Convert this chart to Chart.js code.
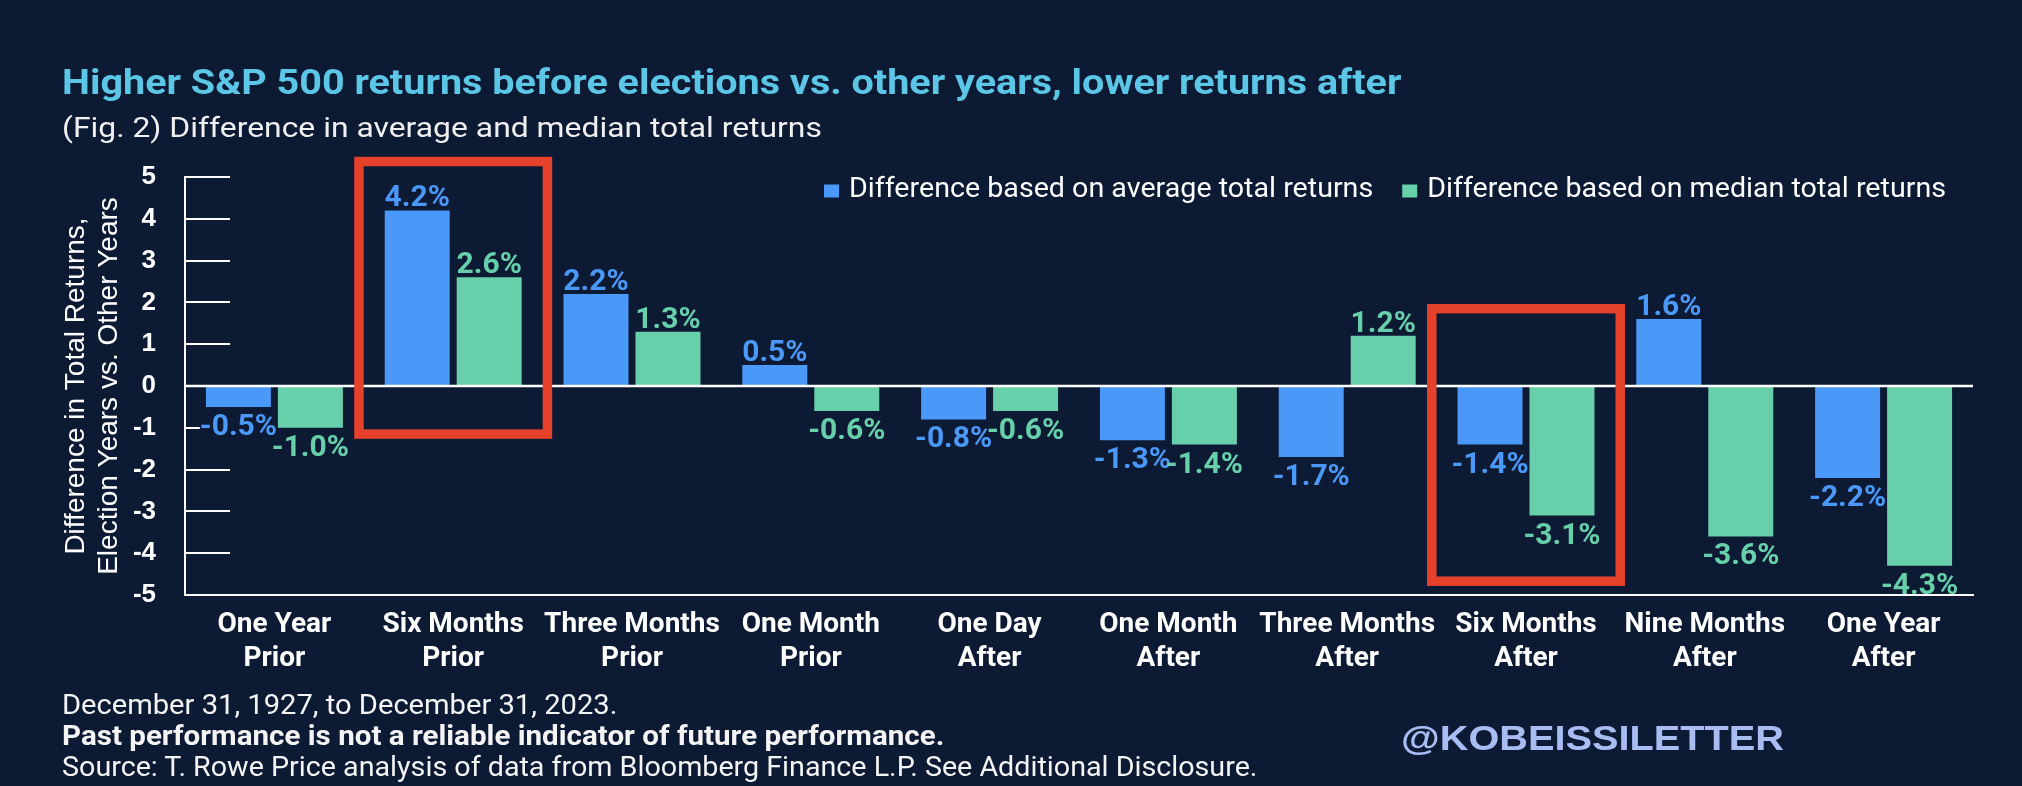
<!DOCTYPE html>
<html>
<head>
<meta charset="utf-8">
<title>S&amp;P 500 returns around elections</title>
<script src="https://cdn.jsdelivr.net/npm/chart.js@4.4.1/dist/chart.umd.min.js"></script>
<style>
  html, body { margin: 0; padding: 0; background: #0d1a34; }
  #page { position: relative; width: 2022px; height: 786px; overflow: hidden; background: #0d1a34; color: #fff; font-family: Roboto, "Noto Sans", sans-serif; }
  #chartBox { position: absolute; left: 0; top: 0; width: 2022px; height: 786px; }
  .txt { position: absolute; white-space: nowrap; margin: 0; transform-origin: 0 0; }
  #title { left: 62px; top: 65px; font-size: 35px; line-height: 35px; font-weight: 700; color: #5cc6e6; transform: scaleX(1.13); }
  #subtitle { left: 62px; top: 115px; font-size: 27px; line-height: 27px; color: #f0f0f0; transform: scaleX(1.18); }
  .foot { left: 62px; font-size: 28px; line-height: 28px; color: #f4f4f4; transform: scaleX(1.04); }
  #foot1 { top: 691px; }
  #foot2 { top: 722px; font-weight: 700; transform: scaleX(1.056); }
  #foot3 { top: 753px; transform: scaleX(1.024); }
  #handle { left: 1401px; top: 720px; font-family: "Liberation Sans", Arial, sans-serif; font-weight: 700; font-size: 35px; line-height: 35px; color: #a9bdf3; transform: scaleX(1.135); }
</style>
</head>
<body>
<div id="page">
  <div id="chartBox"><canvas id="returnsChart"></canvas></div>
  <div class="txt" id="title">Higher S&amp;P 500 returns before elections vs. other years, lower returns after</div>
  <div class="txt" id="subtitle">(Fig. 2) Difference in average and median total returns</div>
  <div class="txt foot" id="foot1">December 31, 1927, to December 31, 2023.</div>
  <div class="txt foot" id="foot2">Past performance is not a reliable indicator of future performance.</div>
  <div class="txt foot" id="foot3">Source: T. Rowe Price analysis of data from Bloomberg Finance L.P. See Additional Disclosure.</div>
  <div class="txt" id="handle">@KOBEISSILETTER</div>
</div>
<script>
// --- data ---
const categories = [
  ["One Year", "Prior"], ["Six Months", "Prior"], ["Three Months", "Prior"], ["One Month", "Prior"],
  ["One Day", "After"], ["One Month", "After"], ["Three Months", "After"], ["Six Months", "After"],
  ["Nine Months", "After"], ["One Year", "After"]
];
const averageDiff = [-0.5, 4.2, 2.2, 0.5, -0.8, -1.3, -1.7, -1.4, 1.6, -2.2];
const medianDiff = [-1.0, 2.6, 1.3, -0.6, -0.6, -1.4, 1.2, -3.1, -3.6, -4.3];
const yMin = -5;
const yMax = 5;
// red highlight boxes: category index and value range they enclose
const highlightIndex = [1, 7];
const highlightTop = [5.37, 1.85];
const highlightBottom = [-1.15, -4.67];

const palette = {
  bg: "#0d1a34",
  blue: "#4a98f7",
  green: "#67d0aa",
  red: "#e5412b",
  axis: "#ffffff",
  text: "#ffffff"
};

const decorations = {
  id: "decorations",
  beforeDatasetsDraw(chart) {
    // short inward tick marks on the value axis
    const ctx = chart.ctx;
    const y = chart.scales.y;
    const left = chart.chartArea.left;
    ctx.save();
    ctx.strokeStyle = palette.axis;
    ctx.lineWidth = 2;
    y.ticks.forEach(function (t) {
      const py = Math.round(y.getPixelForValue(t.value));
      ctx.beginPath();
      ctx.moveTo(left, py);
      ctx.lineTo(left + 45, py);
      ctx.stroke();
    });
    ctx.restore();
  },
  afterDatasetsDraw(chart) {
    const ctx = chart.ctx;
    const x = chart.scales.x;
    const y = chart.scales.y;
    const area = chart.chartArea;

    // zero line
    ctx.save();
    const y0 = y.getPixelForValue(0);
    ctx.strokeStyle = palette.axis;
    ctx.lineWidth = 2.5;
    ctx.beginPath();
    ctx.moveTo(area.left, y0);
    ctx.lineTo(area.right, y0);
    ctx.stroke();

    // value labels: backgrounds first, then text
    ctx.font = "700 30px Roboto";
    ctx.textAlign = "center";
    ctx.textBaseline = "alphabetic";
    const cap = 21;
    const items = [];
    chart.data.datasets.forEach(function (ds, di) {
      chart.getDatasetMeta(di).data.forEach(function (bar, i) {
        const v = ds.data[i];
        const txt = v.toFixed(1) + "%";
        const base = v >= 0 ? bar.y - 4 : bar.y + 7 + cap;
        items.push({ txt: txt, x: bar.x, base: base, color: ds.backgroundColor, w: ctx.measureText(txt).width });
      });
    });
    ctx.fillStyle = palette.bg;
    items.forEach(function (it) { ctx.fillRect(it.x - it.w / 2, it.base - cap - 2, it.w, cap + 2); });
    items.forEach(function (it) { ctx.fillStyle = it.color; ctx.fillText(it.txt, it.x, it.base); });

    // highlight boxes
    ctx.strokeStyle = palette.red;
    ctx.lineWidth = 9.5;
    highlightIndex.forEach(function (idx, k) {
      const x1 = x.getPixelForValue(idx - 0.527);
      const x2 = x.getPixelForValue(idx + 0.527);
      const y1 = y.getPixelForValue(highlightTop[k]);
      const y2 = y.getPixelForValue(highlightBottom[k]);
      ctx.strokeRect(x1, y1, x2 - x1, y2 - y1);
    });

    // legend, top right inside the plot
    const ds = chart.data.datasets;
    ctx.font = "400 27px Roboto";
    ctx.textAlign = "left";
    ctx.textBaseline = "middle";
    const w1 = ctx.measureText(ds[0].label).width;
    const w2 = ctx.measureText(ds[1].label).width;
    const startX = 824, endX = area.right - 27, boxW = 15, boxH = 13, gap = 10, itemGap = 29;
    const sx = (endX - startX - 2 * (boxW + gap) - itemGap) / (w1 + w2);
    const cy = area.top + 13;
    let cx = startX;
    ds.forEach(function (d, i) {
      const w = i === 0 ? w1 : w2;
      ctx.fillStyle = d.backgroundColor;
      ctx.fillRect(cx, cy - boxH / 2 + 1, boxW, boxH);
      cx += boxW + gap;
      ctx.save();
      ctx.translate(cx, cy);
      ctx.scale(sx, 1);
      ctx.fillStyle = palette.text;
      ctx.fillText(d.label, 0, 0);
      ctx.restore();
      cx += w * sx + itemGap;
    });
    ctx.restore();
  }
};

new Chart(document.getElementById("returnsChart").getContext("2d"), {
  type: "bar",
  data: {
    labels: categories,
    datasets: [
      { label: "Difference based on average total returns", data: averageDiff, backgroundColor: palette.blue, borderWidth: 0 },
      { label: "Difference based on median total returns", data: medianDiff, backgroundColor: palette.green, borderWidth: 0 }
    ]
  },
  options: {
    responsive: true,
    maintainAspectRatio: false,
    animation: false,
    events: [],
    categoryPercentage: 0.805,
    barPercentage: 0.903,
    layout: { padding: { top: 177, right: 49, bottom: 91, left: 0 } },
    plugins: {
      tooltip: { enabled: false },
      legend: { display: false }
    },
    scales: {
      x: {
        afterFit: function (scale) { scale.height = 100; },
        grid: { display: false },
        border: { display: true, color: palette.axis, width: 2 },
        ticks: {
          color: palette.text,
          font: { family: "Roboto", size: 28, weight: "700", lineHeight: 34 / 28 },
          padding: 5,
          maxRotation: 0,
          autoSkip: false
        }
      },
      y: {
        min: yMin,
        max: yMax,
        afterFit: function (scale) { scale.width = 185; },
        grid: { display: false },
        border: { display: true, color: palette.axis, width: 2 },
        ticks: {
          stepSize: 1,
          color: palette.text,
          font: { family: "Liberation Sans", size: 26, weight: "700" },
          padding: 21
        },
        title: {
          display: true,
          text: ["Difference in Total Returns,", "Election Years vs. Other Years"],
          color: palette.text,
          font: { family: "Liberation Sans", size: 28, lineHeight: 33 / 28 },
          padding: { top: 60, bottom: 0 }
        }
      }
    }
  },
  plugins: [decorations]
});
</script>
</body>
</html>
